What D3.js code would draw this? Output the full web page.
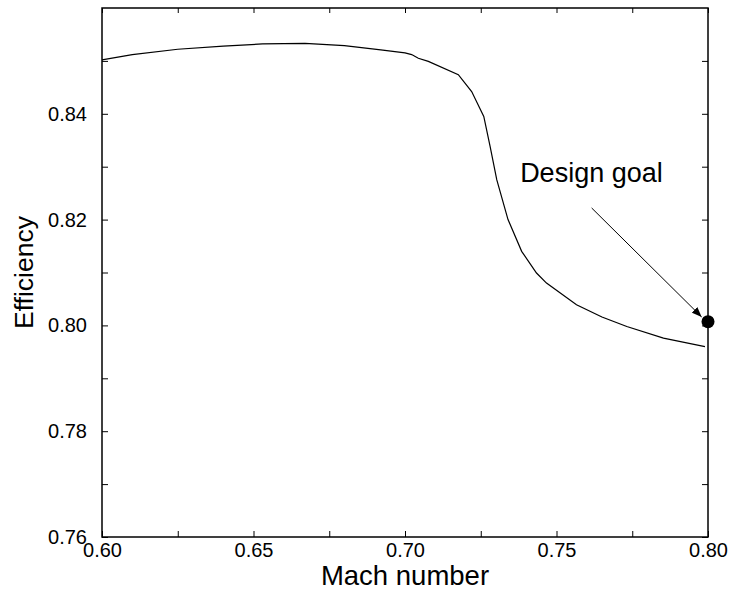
<!DOCTYPE html>
<html>
<head>
<meta charset="utf-8">
<script src="https://cdn.jsdelivr.net/npm/d3@7"></script>
<style>
  body { margin: 0; background: #fff; }
  svg text { font-family: "Liberation Sans", Arial, sans-serif; fill: #000; }
</style>
</head>
<body>
<svg id="chart" width="733" height="596"></svg>
<script>
// curve: efficiency vs mach number
const machValues = [0.600, 0.610, 0.625, 0.640, 0.653, 0.667, 0.680, 0.692, 0.700, 0.7022, 0.7044, 0.7077,
  0.7176, 0.7220, 0.7260, 0.7281, 0.7303, 0.7340, 0.7385, 0.7434, 0.7467, 0.7566, 0.7650, 0.7732, 0.7853, 0.7990];
const efficiencyValues = [0.8502, 0.8512, 0.8522, 0.8528, 0.8532, 0.8533, 0.8529, 0.8521, 0.8515, 0.8512, 0.8505, 0.8499,
  0.8474, 0.8442, 0.8395, 0.8338, 0.8275, 0.8200, 0.8140, 0.8099, 0.8080, 0.8039, 0.8016, 0.7998, 0.7976, 0.7960];

const xMajorTicks = [0.60, 0.65, 0.70, 0.75, 0.80];
const xMinorTicks = [0.625, 0.675, 0.725, 0.775];
const yMajorTicks = [0.76, 0.78, 0.80, 0.82, 0.84];
const yMinorTicks = [0.77, 0.79, 0.81, 0.83, 0.85];

// design goal annotation
const goalPoint = [0.80, 0.8007];
const arrowFrom = [0.7616, 0.8222];
const arrowTo = [0.7979, 0.8016];
const goalLabel = {text: "Design goal", mach: 0.7380, eff: 0.8272};

const svg = d3.select("#chart");
const plotLeft = 102, plotRight = 708, plotTop = 8, plotBottom = 537;

const x = d3.scaleLinear().domain([0.60, 0.80]).range([plotLeft, plotRight]);
const y = d3.scaleLinear().domain([0.76, 0.86]).range([plotBottom, plotTop]);

// ticks on all four sides, pointing inward
function drawAxis(axisFn, transform, values, size, labels) {
  const g = svg.append("g")
    .attr("transform", transform)
    .call(axisFn.tickValues(values).tickSizeInner(size).tickSizeOuter(0)
      .tickPadding(labels ? 10 : 0)
      .tickFormat(labels ? d3.format(".2f") : ""));
  g.select(".domain").remove();
  g.selectAll(".tick line").attr("stroke", "#000").attr("stroke-width", 1);
  g.selectAll("text").attr("font-size", 20);
  return g;
}

const xb = drawAxis(d3.axisBottom(x), `translate(0,${plotBottom})`, xMajorTicks, -6, true);
xb.selectAll("text").attr("dy", "0.95em").attr("y", 1);
drawAxis(d3.axisBottom(x), `translate(0,${plotBottom})`, xMinorTicks, -6, false);
drawAxis(d3.axisTop(x), `translate(0,${plotTop})`, xMajorTicks.concat(xMinorTicks), -5, false);

const yl = drawAxis(d3.axisLeft(y), `translate(${plotLeft},0)`, yMajorTicks, -6, true);
yl.selectAll("text").attr("x", -15);
drawAxis(d3.axisLeft(y), `translate(${plotLeft},0)`, yMinorTicks, -6, false);
drawAxis(d3.axisRight(y), `translate(${plotRight},0)`, yMajorTicks.concat(yMinorTicks), -6, false);

// frame
svg.append("rect")
  .attr("x", plotLeft).attr("y", plotTop)
  .attr("width", plotRight - plotLeft).attr("height", plotBottom - plotTop)
  .attr("fill", "none").attr("stroke", "#000").attr("stroke-width", 1.5);

// curve
const line = d3.line().x(d => x(d[0])).y(d => y(d[1]));
svg.append("path")
  .datum(d3.zip(machValues, efficiencyValues))
  .attr("d", line)
  .attr("fill", "none").attr("stroke", "#000").attr("stroke-width", 1.2);

// arrow with filled head
svg.append("defs").append("marker")
  .attr("id", "head")
  .attr("viewBox", "0 0 10 8")
  .attr("refX", 10).attr("refY", 4)
  .attr("markerWidth", 10).attr("markerHeight", 8)
  .attr("markerUnits", "userSpaceOnUse")
  .attr("orient", "auto")
  .append("path").attr("d", "M0,0L10,4L0,8Z").attr("fill", "#000");

svg.append("line")
  .attr("x1", x(arrowFrom[0])).attr("y1", y(arrowFrom[1]))
  .attr("x2", x(arrowTo[0])).attr("y2", y(arrowTo[1]))
  .attr("stroke", "#000").attr("stroke-width", 1)
  .attr("marker-end", "url(#head)");

svg.append("circle")
  .attr("cx", x(goalPoint[0])).attr("cy", y(goalPoint[1]))
  .attr("r", 6.5).attr("fill", "#000");

svg.append("text")
  .attr("x", x(goalLabel.mach)).attr("y", y(goalLabel.eff))
  .attr("font-size", 27)
  .text(goalLabel.text);

// axis titles
svg.append("text")
  .attr("x", (plotLeft + plotRight) / 2).attr("y", 585)
  .attr("text-anchor", "middle").attr("font-size", 27.5)
  .text("Mach number");

svg.append("text")
  .attr("transform", `translate(33,${(plotTop + plotBottom) / 2}) rotate(-90)`)
  .attr("text-anchor", "middle").attr("font-size", 26.5)
  .text("Efficiency");
</script>
</body>
</html>
